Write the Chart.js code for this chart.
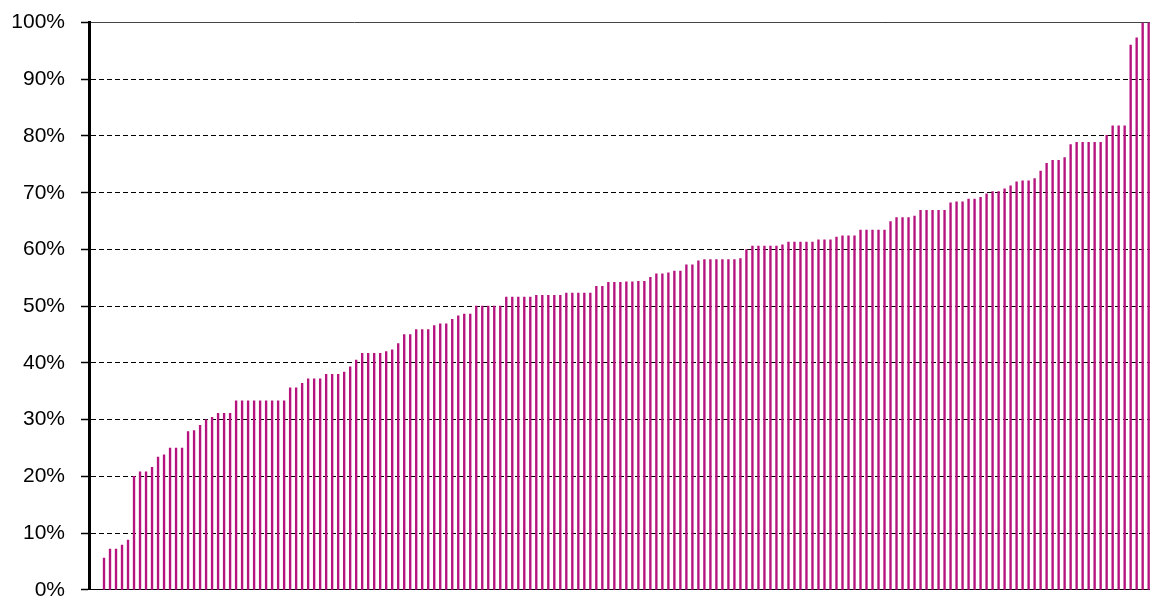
<!DOCTYPE html>
<html>
<head>
<meta charset="utf-8">
<script src="https://cdn.jsdelivr.net/npm/chart.js@4.4.1/dist/chart.umd.min.js"></script>
<style>
  html, body { margin: 0; padding: 0; background: #ffffff; overflow: hidden; }
  #wrap { width: 1150px; height: 606px; }
</style>
</head>
<body>
<div id="wrap"><canvas id="c" width="1150" height="606"></canvas></div>
<script>
// Share (%) per item, sorted ascending
const values = [
  5.6, 7.2, 7.2, 7.9, 8.8, 20.0, 20.8, 20.8, 21.6, 23.4,
  23.8, 25.0, 25.0, 25.0, 27.9, 28.1, 29.0, 30.0, 30.4, 31.1,
  31.1, 31.1, 33.3, 33.3, 33.3, 33.3, 33.3, 33.3, 33.3, 33.3,
  33.3, 35.6, 35.6, 36.4, 37.2, 37.2, 37.2, 38.0, 38.0, 38.0,
  38.4, 39.3, 40.5, 41.7, 41.7, 41.7, 41.7, 42.0, 42.3, 43.4,
  45.0, 45.0, 45.9, 45.9, 45.9, 46.6, 46.9, 46.9, 47.7, 48.3,
  48.6, 48.6, 50.0, 50.0, 50.0, 50.0, 50.0, 51.6, 51.6, 51.6,
  51.6, 51.6, 51.9, 51.9, 51.9, 51.9, 51.9, 52.3, 52.3, 52.3,
  52.3, 52.3, 53.5, 53.5, 54.2, 54.2, 54.2, 54.3, 54.3, 54.4,
  54.4, 55.1, 55.7, 55.7, 55.9, 56.2, 56.2, 57.3, 57.3, 58.0,
  58.2, 58.2, 58.2, 58.2, 58.2, 58.2, 58.4, 60.0, 60.6, 60.6,
  60.6, 60.6, 60.6, 60.8, 61.3, 61.3, 61.3, 61.3, 61.3, 61.7,
  61.7, 61.7, 62.2, 62.4, 62.4, 62.4, 63.4, 63.4, 63.4, 63.4,
  63.4, 64.9, 65.6, 65.6, 65.6, 65.9, 66.9, 66.9, 66.9, 66.9,
  66.9, 68.2, 68.4, 68.4, 68.9, 68.9, 69.2, 69.8, 70.2, 70.2,
  70.7, 71.2, 71.9, 72.1, 72.1, 72.5, 73.8, 75.2, 75.7, 75.7,
  76.2, 78.5, 78.9, 78.9, 78.9, 78.9, 78.9, 80.1, 81.8, 81.8,
  81.8, 96.0, 97.3, 100.0, 100.0
];
// Category index of each bar (0-based)
const categories = values.map((v, i) => i);
// Y-axis tick values (percent)
const yTicks = [0, 10, 20, 30, 40, 50, 60, 70, 80, 90, 100];

const points = categories.map((c, i) => ({ x: c, y: values[i] }));

new Chart(document.getElementById('c'), {
  type: 'bar',
  data: {
    datasets: [{
      data: points,
      backgroundColor: '#B5137E',
      borderWidth: 0,
      barThickness: 1.7
    }]
  },
  options: {
    responsive: false,
    animation: false,
    events: [],
    layout: { padding: { top: 22.5, right: 0, bottom: 0, left: 0 } },
    plugins: { legend: { display: false }, tooltip: { enabled: false }, title: { display: false } },
    scales: {
      x: {
        type: 'linear',
        min: -2.5,
        max: 174.22,
        offset: false,
        grid: { display: false, drawTicks: false },
        ticks: { display: false },
        border: { display: true, color: '#000000', width: 1 }
      },
      xTop: {
        type: 'linear',
        position: 'top',
        min: -2.5,
        max: 174.22,
        grid: { display: false, drawTicks: false },
        ticks: { display: false },
        border: { display: true, color: '#444444', width: 1 }
      },
      y: {
        min: 0,
        max: 100,
        afterFit: (s) => { s.width = 89; },
        afterBuildTicks: (s) => { s.ticks = yTicks.map(v => ({ value: v })); },
        grid: {
          color: '#000000',
          lineWidth: 1,
          drawTicks: true,
          tickLength: 8,
          tickColor: '#000000',
          tickWidth: 1.5,
          tickBorderDash: []
        },
        border: { display: true, color: '#000000', width: 3, dash: [5, 3] },
        ticks: {
          padding: 16,
          color: '#000000',
          font: { family: "'Liberation Sans', Arial, sans-serif", size: 21, lineHeight: 0.01 },
          callback: (v) => v + '%'
        }
      }
    }
  }
});
</script>
</body>
</html>
